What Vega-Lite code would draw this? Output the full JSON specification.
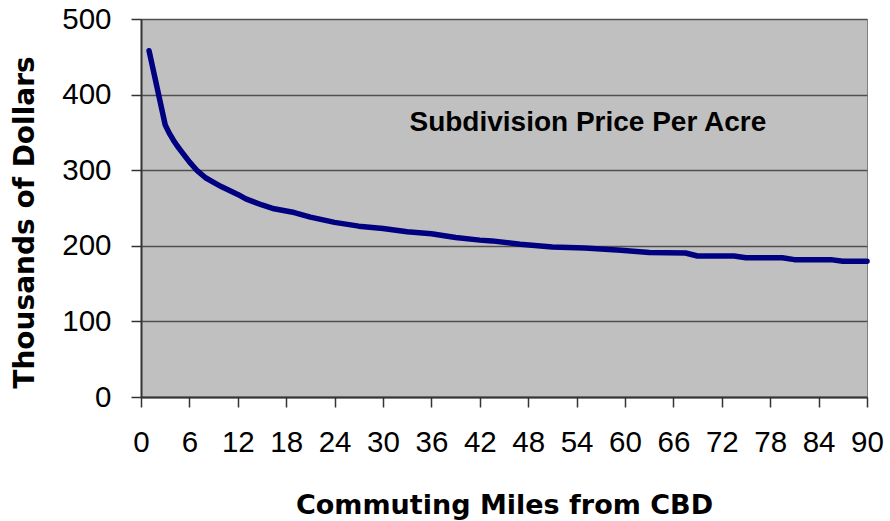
{
  "$schema": "https://vega.github.io/schema/vega-lite/v6.json",
  "width": 726,
  "height": 378,
  "autosize": {"type": "none"},
  "padding": {"left": 141, "top": 19, "right": 23, "bottom": 124},
  "background": "white",
  "config": {
    "view": {"fill": "#C0C0C0", "stroke": "#808080", "strokeWidth": 1}
  },
  "datasets": {
    "price": [
      {"miles": 1, "price": 458},
      {"miles": 3, "price": 360},
      {"miles": 3.5, "price": 349},
      {"miles": 4, "price": 340},
      {"miles": 4.5, "price": 332},
      {"miles": 5, "price": 325},
      {"miles": 6, "price": 311},
      {"miles": 7, "price": 299},
      {"miles": 8, "price": 290},
      {"miles": 9, "price": 284},
      {"miles": 10, "price": 278},
      {"miles": 12, "price": 268},
      {"miles": 13, "price": 262},
      {"miles": 15, "price": 254},
      {"miles": 16.5, "price": 249},
      {"miles": 19, "price": 244},
      {"miles": 21, "price": 238},
      {"miles": 24, "price": 231},
      {"miles": 27, "price": 226},
      {"miles": 30, "price": 223},
      {"miles": 33, "price": 218.5},
      {"miles": 36, "price": 216},
      {"miles": 39, "price": 211},
      {"miles": 42, "price": 207.5},
      {"miles": 43.5, "price": 206.5},
      {"miles": 47, "price": 202},
      {"miles": 51, "price": 198.5},
      {"miles": 55, "price": 197},
      {"miles": 59.5, "price": 194},
      {"miles": 63, "price": 191},
      {"miles": 67.5, "price": 190.5},
      {"miles": 69, "price": 186.5},
      {"miles": 73.5, "price": 186.5},
      {"miles": 75, "price": 184.3},
      {"miles": 79.5, "price": 184.3},
      {"miles": 81, "price": 181.7},
      {"miles": 85.5, "price": 181.7},
      {"miles": 87, "price": 179.5},
      {"miles": 90, "price": 179.5}
    ],
    "label": [
      {"miles": 55.4, "price": 352, "text": "Subdivision Price Per Acre"}
    ]
  },
  "layer": [
    {
      "data": {"name": "price"},
      "mark": {"type": "line", "color": "#000080", "strokeWidth": 5.5, "strokeCap": "round", "strokeJoin": "round"},
      "encoding": {
        "x": {
          "field": "miles",
          "type": "quantitative",
          "scale": {"domain": [0, 90], "nice": false},
          "axis": {
            "title": "Commuting Miles from CBD",
            "values": [0, 6, 12, 18, 24, 30, 36, 42, 48, 54, 60, 66, 72, 78, 84, 90],
            "grid": false,
            "labelFont": "Liberation Sans",
            "labelFontSize": 29.5,
            "labelColor": "black",
            "labelPadding": 21,
            "labelFlush": false,
            "labelOverlap": false,
            "tickSize": 10,
            "tickColor": "#333333",
            "tickWidth": 1.5,
            "domainColor": "#333333",
            "domainWidth": 2,
            "titleFont": "DejaVu Sans",
            "titleFontWeight": "bold",
            "titleFontSize": 27,
            "titleColor": "black",
            "titleBaseline": "alphabetic",
            "titleY": 116
          }
        },
        "y": {
          "field": "price",
          "type": "quantitative",
          "scale": {"domain": [0, 500], "nice": false},
          "axis": {
            "title": "Thousands of Dollars",
            "values": [0, 100, 200, 300, 400, 500],
            "grid": true,
            "gridColor": "#505050",
            "gridWidth": 1.5,
            "labelFont": "Liberation Sans",
            "labelFontSize": 29.5,
            "labelColor": "black",
            "labelPadding": 20,
            "labelFlush": false,
            "tickSize": 10,
            "tickColor": "#333333",
            "tickWidth": 1.5,
            "domainColor": "#333333",
            "domainWidth": 2,
            "titleFont": "DejaVu Sans",
            "titleFontWeight": "bold",
            "titleFontSize": 28,
            "titleColor": "black",
            "titleBaseline": "alphabetic",
            "titleX": -108,
            "titleY": 203
          }
        }
      }
    },
    {
      "data": {"name": "label"},
      "mark": {"type": "text", "font": "Liberation Sans", "fontWeight": "bold", "fontSize": 28, "color": "black", "align": "center", "baseline": "alphabetic"},
      "encoding": {
        "x": {"field": "miles", "type": "quantitative"},
        "y": {"field": "price", "type": "quantitative"},
        "text": {"field": "text"}
      }
    }
  ]
}
